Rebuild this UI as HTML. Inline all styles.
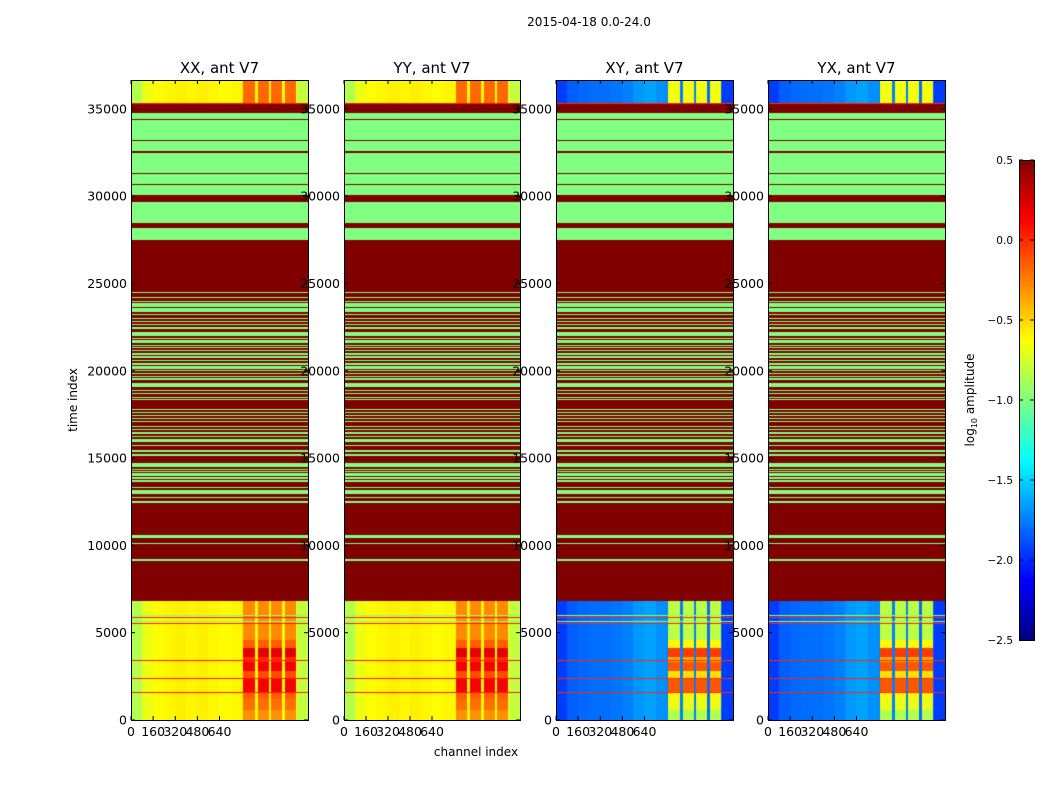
<!DOCTYPE html>
<html><head><meta charset="utf-8">
<style>
body{margin:0;background:#fff;width:1050px;height:800px;overflow:hidden;position:relative;font-family:"DejaVu Sans","Liberation Sans",sans-serif;}
canvas{position:absolute;}
svg{position:absolute;left:0;top:0;}
</style></head>
<body>
<canvas id="c0" width="177" height="640" style="left:131px;top:80px"></canvas>
<canvas id="c1" width="176" height="640" style="left:344px;top:80px"></canvas>
<canvas id="c2" width="177" height="640" style="left:556px;top:80px"></canvas>
<canvas id="c3" width="177" height="640" style="left:768px;top:80px"></canvas>
<canvas id="cb" width="15" height="480" style="left:1019px;top:160px"></canvas>
<svg id="ov" width="1050" height="800"></svg>
<script>
const panelTitles = ["XX, ant V7","YY, ant V7","XY, ant V7","YX, ant V7"];
const yTicks = [0,5000,10000,15000,20000,25000,30000,35000];
const xTicks = [0,160,320,480,640];
const cbTicks = [0.5,0.0,-0.5,-1.0,-1.5,-2.0,-2.5];
const tMax = 36650, chMax = 1280, vMin = -2.5, vMax = 0.5;
const specRanges = [[0,6815],[35330,36650]];
const greenBands = [[30048,34778],[29930,29970],[28440,29682],[27490,28175],
[24453,24510],[24185,24242],[24090,24128],[23956,24013],[23670,23861],[23364,23594],[23174,23231],[22945,23002],[22773,22849],[22639,22696],[22410,22525],[21990,22238],[21799,21856],[21608,21742],[21417,21475],[21284,21360],[21112,21188],[20921,20998],[20730,20845],[20540,20616],[20349,20425],[20100,20272],[19986,20043],[19795,19890],[19661,19718],[19451,19566],[19089,19299],[18821,18898],[18688,18745],[18440,18516],[18325,18363],[17733,17791],[17562,17619],[17409,17466],[17237,17314],[17046,17123],[16760,16836],[16607,16664],[16359,16473],[16187,16282],[15920,16072],[15672,15767],
[15366,15443],[15118,15214],[14927,14965],[14469,14698],[14335,14393],[14221,14278],[13992,14145],[13820,13916],[13648,13744],[13267,13362],[12961,13171],[12713,12789],[12446,12541],[10422,10594],[10079,10155],[9124,9201],
[5950,6000],[5630,5670],[5190,5230],[4845,4890]];
const darkLines = [[34370,34430],[33140,33210],[32460,32560],[31280,31340],[30650,30710]];
const redLines = [[35280,35330],[5840,5885],[5515,5560],[3395,3440],[2345,2390],[2210,2255],[1560,1605]];
const profileXX = [-0.85,-0.68,-0.62,-0.6,-0.58,-0.6,-0.58,-0.6,-0.62,-0.6,-0.6,-0.6,-0.6,-0.62,-0.66,-0.8];
const profileXY = [-1.95,-1.85,-1.82,-1.8,-1.8,-1.78,-1.75,-1.68,-1.65,-1.7,-1.75,-1.75,-1.75,-1.8,-1.85,-1.95];
const zoneCols = [[812,895],[915,995],[1015,1095],[1115,1195]];
const zoneBaseXX = -0.3, zoneBaseXY = -0.85;
const zoneGain = [[0,600,0.0],[600,1200,0.1],[1200,1600,0.15],[1600,2400,0.45],[2400,2800,0.2],[2800,3300,0.45],[3300,3600,0.3],[3600,4100,0.5],[4100,4600,0.15],[4600,6815,0.02],[35330,36650,0.12]];

function jet(x){
  x=Math.max(0,Math.min(1,x));
  const c=v=>Math.round(255*Math.max(0,Math.min(1,v)));
  return [c(1.5-Math.abs(4*x-3)),c(1.5-Math.abs(4*x-2)),c(1.5-Math.abs(4*x-1))];
}
const inR=(t,arr)=>arr.some(r=>t>=r[0]&&t<r[1]);
function value(t,ch,cross){
  if(inR(t,redLines)) return cross?0.0:0.05;
  if(inR(t,darkLines)) return 0.55;
  if(inR(t,greenBands)) return -1.0;
  if(!inR(t,specRanges)) return 0.55;
  const prof=cross?profileXY:profileXX;
  let v=prof[Math.min(15,Math.floor(ch/80))];
  if(inR(ch,zoneCols)){
    let g=0; zoneGain.forEach(z=>{if(t>=z[0]&&t<z[1])g=z[2];});
    v=(cross?zoneBaseXY:zoneBaseXX)+g*(cross?1.6:1.0);
  }
  return v;
}
function drawPanel(id,cross){
  const cv=document.getElementById(id),ctx=cv.getContext('2d');
  const W=cv.width,H=cv.height,img=ctx.createImageData(W,H);
  for(let py=0;py<H;py++){
    const t=(H-py-0.5)/H*tMax;
    for(let px=0;px<W;px++){
      const ch=(px+0.5)/W*chMax;
      const rgb=jet((value(t,ch,cross)-vMin)/(vMax-vMin));
      const i=(py*W+px)*4; img.data[i]=rgb[0];img.data[i+1]=rgb[1];img.data[i+2]=rgb[2];img.data[i+3]=255;
    }
  }
  ctx.putImageData(img,0,0);
}
drawPanel('c0',false);drawPanel('c1',false);drawPanel('c2',true);drawPanel('c3',true);
(function(){const cv=document.getElementById('cb'),ctx=cv.getContext('2d');
for(let py=0;py<480;py++){const rgb=jet(1-(py+0.5)/480);ctx.fillStyle='rgb('+rgb[0]+','+rgb[1]+','+rgb[2]+')';ctx.fillRect(0,py,15,1);}})();

const NS="http://www.w3.org/2000/svg",svg=document.getElementById('ov');
function el(tag,attrs,text){const e=document.createElementNS(NS,tag);for(const k in attrs)e.setAttribute(k,attrs[k]);if(text!==undefined)e.textContent=text;svg.appendChild(e);return e;}
const panels=[{x:131,w:177},{x:344,w:176},{x:556,w:177},{x:768,w:177}];
const topY=80,botY=720;
const yS=t=>botY-t/tMax*(botY-topY);
panels.forEach((p,i)=>{
  const xS=ch=>p.x+ch/chMax*p.w;
  let f=el('rect',{x:p.x+0.5,y:topY+0.5,width:p.w,height:botY-topY,fill:'none',stroke:'#000','stroke-width':1});
  
  
  let tt=el('text',{x:p.x+p.w/2,y:73,'font-size':15,'text-anchor':'middle'},panelTitles[i]);
  
  
  yTicks.forEach(v=>{const y=yS(v);
    el('line',{x1:p.x,x2:p.x+4,y1:y,y2:y,stroke:'#000'});
    el('line',{x1:p.x+p.w-4,x2:p.x+p.w,y1:y,y2:y,stroke:'#000'});
    let l=el('text',{x:p.x-4,y:y+4.5,'font-size':12.5,'text-anchor':'end'},String(v));
    
    
  });
  xTicks.forEach(v=>{const x=xS(v);
    el('line',{x1:x,x2:x,y1:botY,y2:botY-4,stroke:'#000'});
    el('line',{x1:x,x2:x,y1:topY,y2:topY+4,stroke:'#000'});
    let l=el('text',{x:x,y:736,'font-size':12.5,'text-anchor':'middle'},String(v));
    
    
  });
});
let st=el('text',{x:589,y:26,'font-size':12,'text-anchor':'middle'},'2015-04-18 0.0-24.0');


let yl=el('text',{x:0,y:0,'font-size':12,'text-anchor':'middle',transform:'translate(77,400) rotate(-90)'},'time index');


let xl=el('text',{x:476,y:756,'font-size':12,'text-anchor':'middle'},'channel index');


let cbf=el('rect',{x:1019.5,y:160.5,width:15,height:480,fill:'none',stroke:'#000'});


cbTicks.forEach(v=>{const y=160+(vMax-v)/(vMax-vMin)*480;
  el('line',{x1:1019,x2:1023,y1:y,y2:y,stroke:'#000'});
  el('line',{x1:1030,x2:1034,y1:y,y2:y,stroke:'#000'});
  let l=el('text',{x:1013,y:y+4,'font-size':10.5,'text-anchor':'end'},(v<0?'\u2212':'')+Math.abs(v).toFixed(1));
  
  
});
let cl=el('text',{x:0,y:0,'font-size':12,'text-anchor':'middle',transform:'translate(974,400) rotate(-90)'});


cl.innerHTML='log<tspan font-size="8" dy="3">10</tspan><tspan dy="-3"> amplitude</tspan>';
</script>
</body></html>
